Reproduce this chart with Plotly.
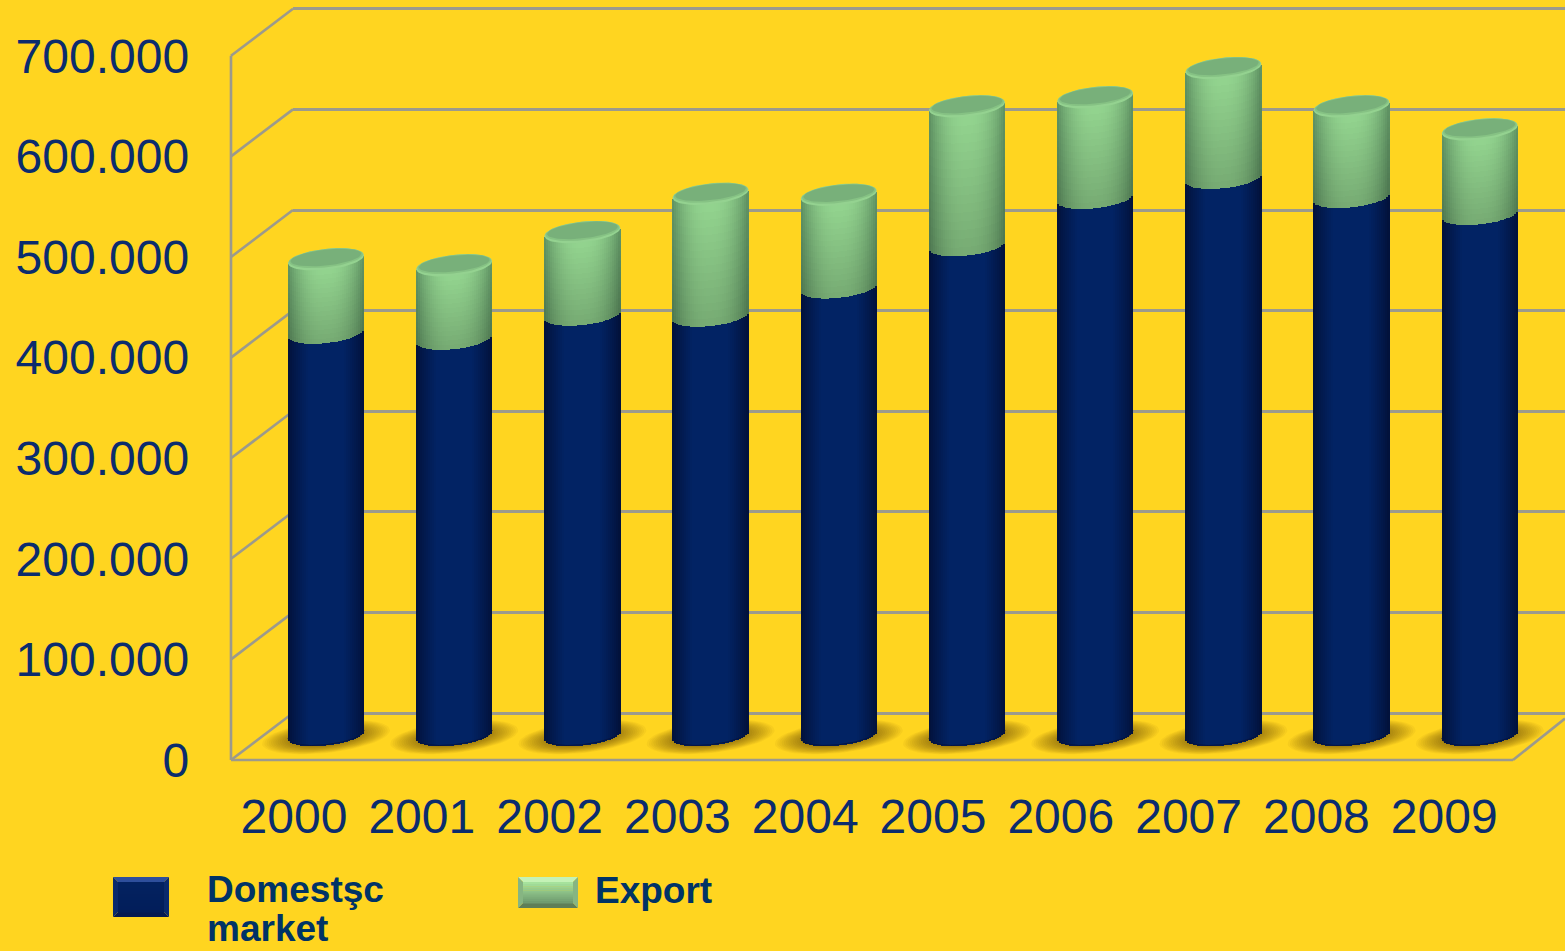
import numpy as np
import plotly.graph_objects as go

# Production figures per year
years = ["2000", "2001", "2002", "2003", "2004", "2005", "2006", "2007", "2008", "2009"]
domestic = [400000, 394000, 418000, 417000, 445000, 487000, 534000, 554000, 535000, 518000]
export = [73000, 73000, 82000, 121000, 92000, 138000, 100000, 109000, 90000, 84000]
y_ticks = [0, 100000, 200000, 300000, 400000, 500000, 600000, 700000]
y_tick_labels = ["0", "100.000", "200.000", "300.000", "400.000", "500.000", "600.000", "700.000"]

W, H = 1565, 951
BG = "#FFD520"
GRID = "#9C9A8C"
TEXT = "#0B2C6E"
LEGEND_TEXT = "#003366"
GW = 2.6

# Pseudo-3D box geometry, in page pixels
FRONT_L, FRONT_R, FRONT_0 = 231, 1513, 760
DEPTH_X, DEPTH_Y = 62, 47
PX_PER_100K = 100.6
SLOT = (FRONT_R - FRONT_L) / 10
LABEL_L, LABEL_SLOT = 230.1, 127.8
BAR_C0, BAR_Y0 = 326, 735     # first cylinder centre, cylinder floor level
BAR_R_PX, CAP_H_PX, TILT = 38, 10.5, 0.105
WALL_PAD = 8                  # keeps the first and last gridline inside the wall axis


def fx(px):
    return px / W


def fy(py):
    return 1 - py / H


def val_per_px(px):
    return px / PX_PER_100K * 100000


R = BAR_R_PX / SLOT
CAP_H = val_per_px(CAP_H_PX)
SLOPE = val_per_px(TILT * SLOT)


def rim(dx):
    """Half height of the sheared ellipse at offset dx from the cylinder axis."""
    return CAP_H * np.sqrt(np.clip(1 - (dx / R) ** 2, 0, 1))


def ellipse(cx, cy, rx, ry, n=60):
    t = np.linspace(0, 2 * np.pi, n)
    dx = rx * np.cos(t)
    return cx + dx, cy + SLOPE * dx + ry * np.sin(t)


def mix(a, b, t):
    return tuple(a[k] + (b[k] - a[k]) * t for k in range(3))


def rgb(c, gain=1.0):
    return "rgb(%d,%d,%d)" % tuple(min(255, max(0, round(v * gain))) for v in c)


N_STRIPS, N_SLICES = 38, 16
offsets = (np.arange(N_STRIPS) + 0.5) / N_STRIPS * 2 - 1
strip_w = 2 * R / N_STRIPS

# Cylinder bodies are built from thin shaded strips
dom_x, dom_base, dom_h, dom_col = [], [], [], []
exp_x, exp_base, exp_h, exp_col = [], [], [], []
BLUE_EDGE, BLUE_MID = (2, 16, 56), (2, 35, 100)
GREEN_EDGE, GREEN_MID = (92, 142, 96), (144, 208, 140)
for i in range(len(years)):
    for p in offsets:
        dx = p * R
        low = SLOPE * dx - rim(dx)
        t_blue = min(1.0, (1 - abs(p)) / 0.55)
        dom_x.append(i + dx)
        dom_base.append(low)
        dom_h.append(domestic[i])
        dom_col.append(rgb(mix(BLUE_EDGE, BLUE_MID, t_blue ** 0.8)))
        t_green = 1 - abs(p) ** 2.4
        step = export[i] / N_SLICES
        for j in range(N_SLICES):
            f = (j + 0.5) / N_SLICES     # 0 at the foot of the green part, 1 under the cap
            exp_x.append(i + dx)
            exp_base.append(domestic[i] + low + j * step)
            exp_h.append(step + (300 if j < N_SLICES - 1 else 1500))
            exp_col.append(rgb(mix(GREEN_EDGE, GREEN_MID, t_green), 0.82 + 0.2 * f))

fig = go.Figure()

# Back wall carries the horizontal gridlines
fig.add_trace(go.Scatter(x=[0], y=[0], xaxis="x", yaxis="y", mode="markers",
                         marker=dict(opacity=0), hoverinfo="skip", showlegend=False))

# Floor shadows sit beneath the cylinders
for scale in np.linspace(1.0, 0.55, 14):
    xs, ys = [], []
    for i in range(len(years)):
        ex, ey = ellipse(i, val_per_px(-2), 64 / SLOT * scale, val_per_px(16) * scale)
        xs += list(ex) + [None]
        ys += list(ey) + [None]
    fig.add_trace(go.Scatter(x=xs, y=ys, xaxis="x2", yaxis="y2", mode="lines",
                             line=dict(width=0), fill="toself",
                             fillcolor="rgba(45,35,0,0.04)",
                             hoverinfo="skip", showlegend=False))

# Cylinder bodies
fig.add_trace(go.Bar(x=dom_x, y=dom_h, base=dom_base, width=strip_w * 1.25,
                     xaxis="x3", yaxis="y3", name="Domestşc market",
                     marker=dict(color=dom_col, line=dict(width=0)),
                     hoverinfo="skip", showlegend=False))
fig.add_trace(go.Bar(x=exp_x, y=exp_h, base=exp_base, width=strip_w * 1.25,
                     xaxis="x3", yaxis="y3", name="Export",
                     marker=dict(color=exp_col, line=dict(width=0)),
                     hoverinfo="skip", showlegend=False))

# Green caps: light rim with a darker inner face
totals = [d + e for d, e in zip(domestic, export)]
for col, scale_x, scale_y, lift in [("#94D290", 1.0, 1.0, 0.0),
                                    ("#86C284", 0.97, 0.88, 1.0),
                                    ("#78B07A", 0.93, 0.76, 1.6)]:
    xs, ys = [], []
    for i in range(len(years)):
        ex, ey = ellipse(i, totals[i] + val_per_px(lift), R * scale_x, CAP_H * scale_y)
        xs += list(ex) + [None]
        ys += list(ey) + [None]
    fig.add_trace(go.Scatter(x=xs, y=ys, xaxis="x3", yaxis="y3", mode="lines",
                             line=dict(width=0), fill="toself", fillcolor=col,
                             hoverinfo="skip", showlegend=False))

# Dark lower edge on each cylinder foot
edge_dx = np.linspace(-R, R, 40)
xs, ys = [], []
for i in range(len(years)):
    xs += list(i + edge_dx) + [None]
    ys += list(SLOPE * edge_dx - rim(edge_dx) + val_per_px(0.8)) + [None]
fig.add_trace(go.Scatter(x=xs, y=ys, xaxis="x3", yaxis="y3", mode="lines",
                         line=dict(width=1, color="#06143F"),
                         hoverinfo="skip", showlegend=False))

# Front plane carries the tick labels
fig.add_trace(go.Scatter(x=[0], y=[0], xaxis="x4", yaxis="y4", mode="markers",
                         marker=dict(opacity=0), hoverinfo="skip", showlegend=False))

shapes = []


def line(x0, y0, x1, y1):
    shapes.append(dict(type="line", xref="paper", yref="paper", layer="below",
                       x0=fx(x0), y0=fy(y0), x1=fx(x1), y1=fy(y1),
                       line=dict(color=GRID, width=GW)))


y_top_front = max(y_ticks) / 100000 * PX_PER_100K

# Side wall diagonals, front edges and the right floor edge
for v in y_ticks:
    rise = v / 100000 * PX_PER_100K
    line(FRONT_L, FRONT_0 - rise, FRONT_L + DEPTH_X, FRONT_0 - DEPTH_Y - rise)
line(FRONT_L, FRONT_0, FRONT_L, FRONT_0 - y_top_front)
line(FRONT_L, FRONT_0, FRONT_R, FRONT_0)
line(FRONT_R, FRONT_0, W, FRONT_0 - (W - FRONT_R) * DEPTH_Y / DEPTH_X - 2)


def poly(points, color):
    path = "M " + " L ".join(f"{fx(a):.5f},{fy(b):.5f}" for a, b in points) + " Z"
    shapes.append(dict(type="path", xref="paper", yref="paper", path=path,
                       fillcolor=color, line=dict(width=0)))


def swatch(x0, y0, x1, y1, bevel, top, bottom, side, centre_a, centre_b):
    poly([(x0, y0), (x1, y0), (x1 - bevel, y0 + bevel), (x0 + bevel, y0 + bevel)], top)
    poly([(x0, y1), (x1, y1), (x1 - bevel, y1 - bevel), (x0 + bevel, y1 - bevel)], bottom)
    poly([(x0, y0), (x0 + bevel, y0 + bevel), (x0 + bevel, y1 - bevel), (x0, y1)], side)
    poly([(x1, y0), (x1 - bevel, y0 + bevel), (x1 - bevel, y1 - bevel), (x1, y1)], side)
    rows = 10
    h = (y1 - y0 - 2 * bevel) / rows
    for r in range(rows):
        c = mix(centre_a, centre_b, r / (rows - 1))
        top_y = y0 + bevel + r * h
        poly([(x0 + bevel, top_y), (x1 - bevel, top_y),
              (x1 - bevel, top_y + h + 0.4), (x0 + bevel, top_y + h + 0.4)], rgb(c))


swatch(113, 877, 169, 917, 5, "#2E4F9C", "#051A50", "#0A2A6C", (3, 34, 96), (2, 30, 90))
swatch(518, 877, 578, 908, 5, "#C4F2B6", "#5F7F58", "#86B582", (166, 226, 156), (112, 156, 112))


def legend_text(text, x_px, y_px):
    return dict(text=text, x=fx(x_px), y=fy(y_px), xref="paper", yref="paper",
                xanchor="left", yanchor="middle", align="left", showarrow=False,
                borderpad=0, borderwidth=0,
                font=dict(family="Liberation Sans", size=37, color=LEGEND_TEXT, weight="bold"))


annotations = [legend_text("Domestşc", 207, 889),
               legend_text("market", 207, 928),
               legend_text("Export", 595, 890)]

axis_font = dict(family="Liberation Sans", size=48, color=TEXT)
plane_x = dict(visible=False, domain=[0, 1], automargin=False,
               range=[(0 - BAR_C0) / SLOT, (W - BAR_C0) / SLOT])
plane_y = dict(visible=False, domain=[0, 1], automargin=False,
               range=[val_per_px(BAR_Y0 - H), val_per_px(BAR_Y0)])

fig.update_layout(
    width=W, height=H, margin=dict(l=0, r=0, t=0, b=0, autoexpand=False),
    paper_bgcolor=BG, plot_bgcolor="rgba(0,0,0,0)", barmode="overlay", bargap=0,
    showlegend=False, shapes=shapes, annotations=annotations,
    xaxis=dict(domain=[fx(FRONT_L + DEPTH_X), 1], range=[0, 1], showticklabels=False,
               showgrid=False, zeroline=False, showline=False, ticks="",
               anchor="y", automargin=False),
    yaxis=dict(domain=[fy(FRONT_0 - DEPTH_Y + WALL_PAD),
                       fy(FRONT_0 - DEPTH_Y - y_top_front - WALL_PAD)],
               range=[val_per_px(-WALL_PAD), max(y_ticks) + val_per_px(WALL_PAD)],
               tickvals=y_ticks, ticktext=[""] * len(y_ticks),
               showgrid=True, gridcolor=GRID, gridwidth=GW, zeroline=False,
               showline=False, ticks="", anchor="x", automargin=False),
    xaxis2=dict(plane_x, anchor="y2"),
    yaxis2=dict(plane_y, anchor="x2"),
    xaxis3=dict(plane_x, anchor="y3"),
    yaxis3=dict(plane_y, anchor="x3"),
    xaxis4=dict(domain=[fx(LABEL_L), fx(LABEL_L + 10 * LABEL_SLOT)], range=[-0.5, 9.5], anchor="y4",
                tickvals=list(range(len(years))), ticktext=years, tickfont=axis_font,
                ticks="", showgrid=False, zeroline=False, showline=False, automargin=False,
                ticklabelstandoff=24),
    yaxis4=dict(domain=[fy(FRONT_0), fy(FRONT_0 - y_top_front)], range=[0, max(y_ticks)],
                anchor="x4", tickvals=y_ticks, ticktext=y_tick_labels, tickfont=axis_font,
                ticks="", showgrid=False, zeroline=False, showline=False, automargin=False,
                ticklabelstandoff=40),
)

fig.write_html("out.html")
